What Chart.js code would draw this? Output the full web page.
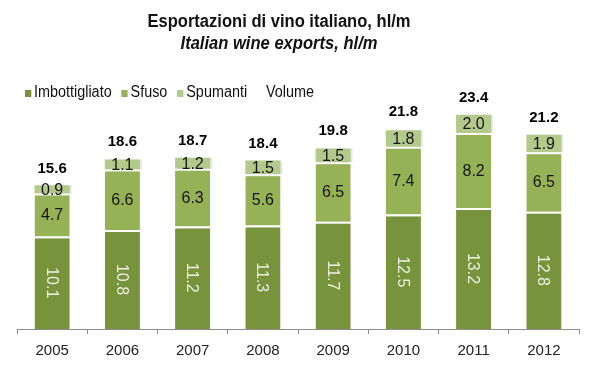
<!DOCTYPE html>
<html>
<head>
<meta charset="utf-8">
<script src="https://cdn.jsdelivr.net/npm/chart.js@4.4.1/dist/chart.umd.min.js"></script>
<style>
  html, body { margin: 0; padding: 0; background: #fff; }
  #wrap { position: relative; width: 599px; height: 380px; }
  .title { position: absolute; left: 0; width: 558px; text-align: center; color: #111;
           font-family: "Liberation Sans", Arial, sans-serif; font-size: 18px; font-weight: bold;
           transform: scaleX(0.92); transform-origin: 279px 0; white-space: nowrap; }
  #t1 { top: 11px; }
  #t2 { top: 33px; font-style: italic; }
  #legend { position: absolute; left: 25px; top: 83px; display: flex; align-items: center;
            transform: scaleX(0.9); transform-origin: 0 0; white-space: nowrap;
            font-family: "Liberation Sans", Arial, sans-serif; font-size: 16px; color: #111; }
  #legend .item { display: flex; align-items: center; margin-right: 11px; }
  #legend .box { width: 7px; height: 7px; margin-right: 3px; margin-top: 3px; }
</style>
</head>
<body>
<div id="wrap">
  <div class="title" id="t1">Esportazioni di vino italiano, hl/m</div>
  <div class="title" id="t2">Italian wine exports, hl/m</div>
  <div id="legend"></div>
  <canvas id="chart" width="599" height="380"></canvas>
</div>
<script>
// --- DATI ---
const years = ['2005', '2006', '2007', '2008', '2009', '2010', '2011', '2012'];
const imbottigliato = [10.1, 10.8, 11.2, 11.3, 11.7, 12.5, 13.2, 12.8];
const sfuso = [4.7, 6.6, 6.3, 5.6, 6.5, 7.4, 8.2, 6.5];
const spumanti = [0.9, 1.1, 1.2, 1.5, 1.5, 1.8, 2.0, 1.9];
const volume = [15.6, 18.6, 18.7, 18.4, 19.8, 21.8, 23.4, 21.2];

const SANS = '"Liberation Sans", Arial, sans-serif';

// ombra leggera a destra delle barre
const shadowPlugin = {
    id: 'barShadow',
    beforeDatasetDraw(chart, args) {
        if (args.meta.type !== 'bar') return;
        const ctx = chart.ctx;
        ctx.shadowColor = 'rgba(0, 0, 0, 0.09)';
        ctx.shadowOffsetX = 2;
        ctx.shadowOffsetY = 0;
        ctx.shadowBlur = 0;
    },
    afterDatasetDraw(chart) {
        const ctx = chart.ctx;
        ctx.shadowColor = 'transparent';
        ctx.shadowOffsetX = 0;
        ctx.shadowBlur = 0;
    }
};

// etichette dentro le barre e totali sopra
const labelPlugin = {
    id: 'valueLabels',
    afterDatasetsDraw(chart) {
        const ctx = chart.ctx;
        ctx.save();
        ctx.textAlign = 'center';
        ctx.textBaseline = 'middle';
        chart.data.datasets.forEach((ds, di) => {
            const meta = chart.getDatasetMeta(di);
            meta.data.forEach((el, i) => {
                const v = ds.data[i];
                if (ds.type === 'line') {
                    ctx.font = 'bold 15px ' + SANS;
                    ctx.fillStyle = '#000';
                    ctx.fillText(v.toFixed(1), el.x, el.y - 17);
                    return;
                }
                const cy = (el.y + el.base) / 2;
                ctx.font = '16px ' + SANS;
                if (di === 0) {
                    ctx.save();
                    ctx.translate(el.x, cy);
                    ctx.rotate(Math.PI / 2);
                    ctx.fillStyle = '#eef0e2';
                    ctx.fillText(v.toFixed(1), 0, 1);
                    ctx.restore();
                } else {
                    ctx.fillStyle = '#151515';
                    ctx.fillText(v.toFixed(1), el.x, cy + 1);
                }
            });
        });
        ctx.restore();
    }
};

const chart = new Chart(document.getElementById('chart'), {
    type: 'bar',
    data: {
        labels: years,
        datasets: [
            { label: 'Imbottigliato', data: imbottigliato, backgroundColor: '#77933c',
              borderColor: '#fff', borderWidth: { top: 2 }, borderSkipped: false, stack: 'a' },
            { label: 'Sfuso', data: sfuso, backgroundColor: '#95b356',
              borderColor: '#fff', borderWidth: { top: 2 }, borderSkipped: false, stack: 'a' },
            { label: 'Spumanti', data: spumanti, backgroundColor: '#b4c98c', stack: 'a' },
            { type: 'line', label: 'Volume', data: volume, stack: 'vol',
              showLine: false, pointRadius: 0, borderColor: 'transparent', backgroundColor: 'transparent' }
        ]
    },
    options: {
        responsive: false,
        animation: false,
        layout: { padding: { left: 17, right: 20, top: 100, bottom: 12 } },
        datasets: { bar: { categoryPercentage: 1, barPercentage: 0.5 } },
        plugins: {
            tooltip: { enabled: false },
            legend: { display: false }
        },
        scales: {
            x: {
                stacked: true,
                grid: { offset: true, drawOnChartArea: false, drawTicks: true, tickLength: 5, color: '#8c8c8c' },
                border: { display: true, color: '#8c8c8c' },
                ticks: { color: '#222', font: { family: SANS, size: 15 }, padding: 8 }
            },
            y: {
                stacked: true,
                display: false,
                min: 0,
                max: 25
            }
        }
    },
    plugins: [shadowPlugin, labelPlugin]
});

// legenda HTML costruita dai dataset
const legend = document.getElementById('legend');
legend.innerHTML = chart.data.datasets.map(ds => `
    <div class="item">
        <span class="box" style="background:${ds.type === 'line' ? 'transparent' : ds.backgroundColor}"></span>
        <span>${ds.label}</span>
    </div>
`).join('');
</script>
</body>
</html>
